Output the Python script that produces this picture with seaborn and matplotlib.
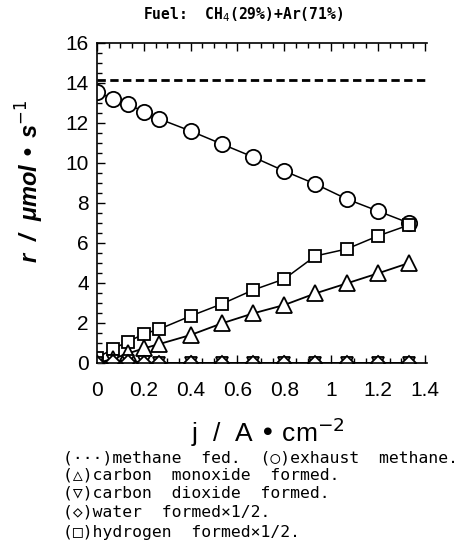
import matplotlib
matplotlib.use("Agg")
import matplotlib.pyplot as plt
import seaborn as sns
import pandas as pd
from matplotlib.ticker import MultipleLocator, FuncFormatter

# ---- data ----
current_density = [0.0, 0.067, 0.133, 0.2, 0.267, 0.4, 0.533, 0.667, 0.8, 0.933, 1.067, 1.2, 1.333]
methane_fed = 14.15
exhaust_methane = [13.55, 13.2, 12.95, 12.55, 12.2, 11.6, 10.95, 10.3, 9.6, 8.95, 8.2, 7.6, 7.0]
carbon_monoxide = [0.0, 0.2, 0.48, 0.73, 0.95, 1.4, 1.98, 2.48, 2.9, 3.48, 3.98, 4.48, 5.0]
carbon_dioxide = [0.0, 0.1, 0.1, 0.05, 0.0, 0.0, 0.0, 0.0, 0.0, 0.0, 0.0, 0.0, 0.0]
water_half = [0.0, 0.05, 0.05, 0.0, 0.0, 0.0, 0.0, 0.0, 0.0, 0.0, 0.0, 0.0, 0.0]
hydrogen_half = [0.25, 0.7, 1.07, 1.45, 1.7, 2.35, 2.95, 3.65, 4.2, 5.35, 5.7, 6.35, 6.9]
x_ticks = [0, 0.2, 0.4, 0.6, 0.8, 1.0, 1.2, 1.4]
y_ticks = [0, 2, 4, 6, 8, 10, 12, 14, 16]

sns.set_style("ticks")
plt.rcParams['font.family'] = ['Liberation Sans', 'DejaVu Sans']
plt.rcParams['text.color'] = 'black'

W, H = 465, 553
fig = plt.figure(figsize=(W / 100, H / 100), dpi=100)
ax = fig.add_axes([97 / W, 1 - 363 / H, (427 - 97) / W, (363 - 43) / H])

series = [
    (exhaust_methane, 'o', 11, 1.1),
    (hydrogen_half, 's', 9, 1.1),
    (carbon_monoxide, '^', 11, 1.3),
    (carbon_dioxide, 'v', 9, 1.0),
    (water_half, 'D', 7, 1.0),
]
for vals, mk, ms, lw in series:
    df = pd.DataFrame({'j': current_density, 'r': vals})
    sns.lineplot(data=df, x='j', y='r', ax=ax, sort=False, estimator=None,
                 color='black', lw=lw, marker=mk, markersize=ms,
                 markerfacecolor='white', markeredgecolor='black',
                 markeredgewidth=1.3)

ax.axhline(methane_fed, color='black', lw=2.0, ls=(0, (3, 1.6)))

ax.set_xlim(0, 1.41)
ax.set_ylim(0, 16)
ax.set_xticks(x_ticks)
ax.set_yticks(y_ticks)
ax.xaxis.set_major_formatter(FuncFormatter(lambda v, p: f"{v:g}"))
ax.xaxis.set_minor_locator(MultipleLocator(0.05))
ax.yaxis.set_minor_locator(MultipleLocator(0.5))
ax.tick_params(which='both', direction='in', top=True, bottom=True, left=True, right=False,
               width=1.0, labelsize=15, colors='black')
ax.tick_params(axis='x', which='major', length=6, pad=13)
ax.tick_params(axis='y', which='major', length=6, pad=6)
ax.tick_params(which='minor', length=3.5)
ax.set_xlabel('')
ax.set_ylabel('')
for s in ['top', 'bottom', 'left']:
    ax.spines[s].set_linewidth(1.2)
    ax.spines[s].set_color('black')
ax.spines['right'].set_visible(False)

# titles and labels
fig.text(243 / W, 1 - 15 / H, "Fuel:  CH$_4$(29%)+Ar(71%)", ha='center', va='center',
         fontsize=10.5, weight='bold', color='black', family=['DejaVu Sans Mono', 'DejaVu Sans'])
fig.text(268 / W, 1 - 432 / H, "j  /  A • cm$^{-2}$", ha='center', va='center',
         fontsize=19, color='black', family=['Liberation Sans', 'DejaVu Sans'])
fig.text(30 / W, 1 - 181 / H, "r  /  μmol • s$^{-1}$", ha='center', va='center',
         rotation=90, fontsize=17, style='italic', weight='bold', color='black',
         family=['Liberation Sans', 'DejaVu Sans'])

legend_lines = [
    "(···)methane  fed.  (○)exhaust  methane.",
    "(△)carbon  monoxide  formed.",
    "(▽)carbon  dioxide  formed.",
    "(◇)water  formed×1/2.",
    "(□)hydrogen  formed×1/2.",
]
legend_y = [458, 475, 493, 512, 532]
for txt, yy in zip(legend_lines, legend_y):
    fig.text(63 / W, 1 - yy / H, txt, ha='left', va='center', fontsize=11.8, color='black',
             family=['DejaVu Sans Mono', 'DejaVu Sans'])

fig.savefig('out.png', dpi=100)
